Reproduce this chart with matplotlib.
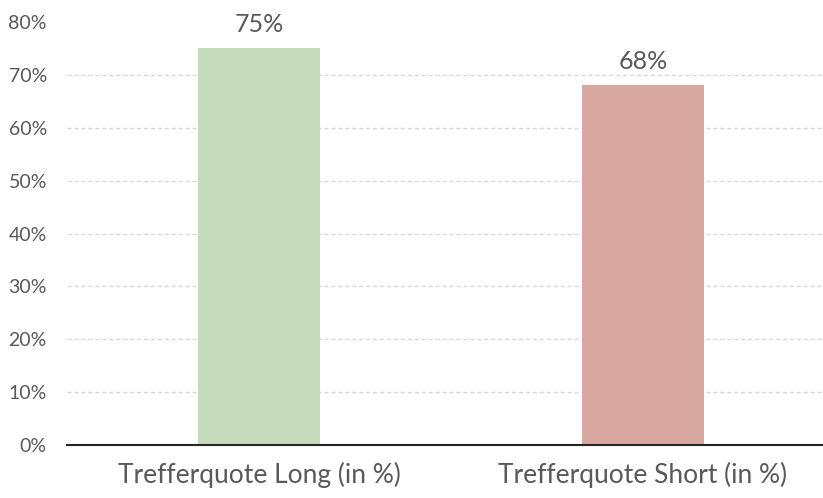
import matplotlib
matplotlib.use("Agg")
import matplotlib.pyplot as plt
from matplotlib.ticker import FuncFormatter

# data
categories = ["Trefferquote Long (in %)", "Trefferquote Short (in %)"]
values = [75, 68]
bar_colors = ["#c5dbbb", "#d8a7a0"]
y_ticks = [0, 10, 20, 30, 40, 50, 60, 70, 80]

text_grey = "#595959"
plt.rcParams['font.family'] = ['Lato', 'DejaVu Sans']

fig = plt.figure(figsize=(8.23, 4.98), dpi=100)
ax = fig.add_axes([0.0814, 0.1064, 0.9186, 0.8494])

x = list(range(len(categories)))
bars = ax.bar(x, values, width=0.318, color=bar_colors, zorder=3)

# value labels above the bars
for rect, v in zip(bars, values):
    ax.annotate(f"{v}%", xy=(rect.get_x() + rect.get_width() / 2, v),
                xytext=(0, 9), textcoords="offset points",
                ha="center", va="bottom", fontsize=18, color=text_grey)

ax.set_xlim(-0.5, 1.469)
ax.set_ylim(0, 80)
ax.set_yticks(y_ticks)
ax.yaxis.set_major_formatter(FuncFormatter(lambda v, p: f"{v:.0f}%"))
ax.set_xticks(x)
ax.set_xticklabels(categories)

ax.tick_params(axis="y", length=0, pad=14.5, labelsize=14, labelcolor=text_grey)
ax.tick_params(axis="x", length=0, pad=12, labelsize=19, labelcolor=text_grey)

ax.yaxis.grid(True, linestyle=(0, (3, 2)), color="#d9d9d9", linewidth=1, zorder=0)
ax.get_ygridlines()[-1].set_visible(False)
ax.set_axisbelow(True)

for s in ["top", "right", "left"]:
    ax.spines[s].set_visible(False)
ax.spines["bottom"].set_color("#262626")
ax.spines["bottom"].set_linewidth(1.5)
ax.spines["bottom"].set_zorder(4)

fig.savefig("out.png", dpi=100)
